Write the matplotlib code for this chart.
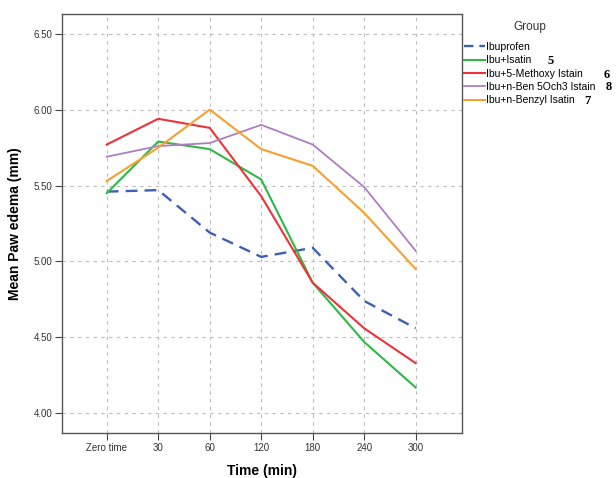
import matplotlib
matplotlib.use('Agg')
import matplotlib.pyplot as plt
import numpy as np

plt.rcParams['font.family'] = ['Liberation Sans', 'DejaVu Sans']

# data
times = ['Zero time', '30', '60', '120', '180', '240', '300']
ibuprofen = [5.46, 5.47, 5.19, 5.03, 5.09, 4.74, 4.56]
ibu_isatin = [5.45, 5.79, 5.74, 5.54, 4.86, 4.47, 4.17]
ibu_methoxy = [5.77, 5.94, 5.88, 5.43, 4.86, 4.56, 4.33]
ibu_ben5och3 = [5.69, 5.76, 5.78, 5.90, 5.77, 5.49, 5.07]
ibu_benzyl = [5.53, 5.75, 6.00, 5.74, 5.63, 5.32, 4.95]

labels = ['Ibuprofen', 'Ibu+Isatin', 'Ibu+5-Methoxy Istain',
          'Ibu+n-Ben 5Och3 Istain', 'Ibu+n-Benzyl Isatin']
numbers = ['5', '6', '8', '7']
# where the compound numbers sit, in pixels of the 616x478 picture
num_pos = [(551, 60), (607, 73), (609, 86), (587, 99)]

fig = plt.figure(figsize=(6.16, 4.78), dpi=100)
ax = fig.add_axes([0.1006, 0.0941, 0.6494, 0.8766])

x = np.arange(len(times))
ax.plot(x, ibuprofen, color='#3f5fb0', lw=1.7, ls=(0, (5, 3)), label=labels[0])
ax.plot(x, ibu_isatin, color='#2fb845', lw=1.5, label=labels[1])
ax.plot(x, ibu_methoxy, color='#ee3338', lw=1.5, label=labels[2])
ax.plot(x, ibu_ben5och3, color='#b07cc0', lw=1.3, label=labels[3])
ax.plot(x, ibu_benzyl, color='#f7a030', lw=1.5, label=labels[4])

ax.set_xlim(-0.87, 6.9)
ax.set_ylim(3.87, 6.63)
ax.set_xticks(x)
ax.set_xticklabels(times, fontsize=7, color='#333333')
ax.set_yticks([4.0, 4.5, 5.0, 5.5, 6.0, 6.5])
ax.set_yticklabels(['4.00', '4.50', '5.00', '5.50', '6.00', '6.50'], fontsize=7, color='#333333')
ax.tick_params(length=5, width=0.8, color='#444444', pad=2)
ax.grid(True, ls=(0, (3, 4)), color='#bbbbbb', lw=0.8)
for s in ax.spines.values():
    s.set_color('#555555')
    s.set_linewidth(1.0)

ax.set_xlabel('Time (min)', fontsize=10, fontweight='bold', labelpad=8)
ax.set_ylabel('Mean Paw edema (mm)', fontsize=10, fontweight='bold', labelpad=8)

fig.text(530 / 616, 1 - 27 / 478, 'Group', ha='center', va='center', fontsize=8.5, color='#333333')
leg = ax.legend(loc='upper left', bbox_to_anchor=(464 / 616, 1 - 42 / 478), bbox_transform=fig.transFigure,
                frameon=False, fontsize=7.5, borderpad=0, borderaxespad=0,
                handlelength=2.0, handletextpad=0.1, labelspacing=0.32)
leg.get_lines()[0].set_linestyle((0, (4, 2.5)))

for num, (px, py) in zip(numbers, num_pos):
    fig.text(px / 616, 1 - py / 478, num, fontsize=9, fontweight='bold',
             family='Liberation Serif', ha='center', va='center_baseline')

fig.savefig('out.png', dpi=100)
